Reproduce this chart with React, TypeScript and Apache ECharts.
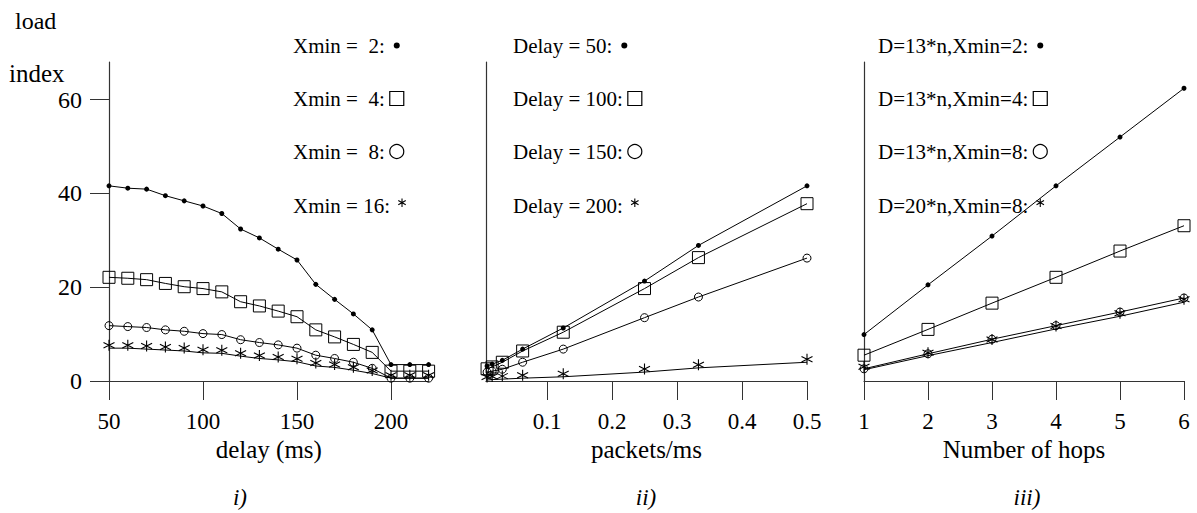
import React, { useEffect, useRef } from "react";
import * as echarts from "echarts";

// ---------- data ----------
const delayMs = [50, 60, 70, 80, 90, 100, 110, 120, 130, 140, 150, 160, 170, 180, 190, 200, 210, 220];
const loadXmin2 = [41.6, 41.1, 40.9, 39.5, 38.4, 37.3, 35.7, 32.4, 30.5, 28.1, 25.8, 20.6, 17.4, 14.3, 10.9, 3.5, 3.5, 3.5];
const loadXmin4 = [22.1, 21.9, 21.6, 20.8, 20.1, 19.7, 19.0, 16.9, 16.0, 14.9, 13.7, 10.9, 9.4, 7.8, 6.1, 2.1, 2.1, 2.1];
const loadXmin8 = [11.8, 11.6, 11.4, 10.9, 10.6, 10.1, 9.9, 8.8, 8.2, 7.7, 7.0, 5.5, 4.8, 4.0, 2.7, 0.6, 0.6, 0.6];
const loadXmin16 = [7.0, 7.0, 6.8, 6.6, 6.4, 6.0, 5.9, 5.3, 4.8, 4.5, 4.1, 3.2, 2.9, 2.3, 1.6, 0.6, 0.6, 0.6];

const packetRates = [0.0078, 0.0156, 0.03125, 0.0625, 0.125, 0.25, 0.333, 0.5];
const loadDelay50 = [3.2, 3.6, 4.4, 6.8, 11.3, 21.3, 28.9, 41.6];
const loadDelay100 = [2.6, 3.0, 4.0, 6.4, 10.4, 19.7, 26.3, 37.8];
const loadDelay150 = [1.9, 2.1, 2.5, 4.0, 6.8, 13.5, 17.9, 26.2];
const loadDelay200 = [0.2, 0.3, 0.4, 0.6, 0.9, 1.9, 2.8, 4.0];

const hops = [1, 2, 3, 4, 5, 6];
const loadD13X2 = [9.9, 20.5, 30.9, 41.6, 52.0, 62.4];
const loadD13X4 = [5.5, 11.0, 16.6, 22.1, 27.7, 33.1];
const loadD13X8 = [2.6, 5.8, 8.9, 11.8, 14.7, 17.7];
const loadD20X8 = [2.4, 5.4, 8.2, 11.1, 13.8, 16.8];

const yTicks = [0, 20, 40, 60];
const delayTicks = [50, 100, 150, 200];
const rateTicks = [0.1, 0.2, 0.3, 0.4, 0.5];

const namesI = ["Xmin =  2:", "Xmin =  4:", "Xmin =  8:", "Xmin = 16:"];
const namesII = ["Delay = 50:", "Delay = 100:", "Delay = 150:", "Delay = 200:"];
const namesIII = ["D=13*n,Xmin=2:", "D=13*n,Xmin=4:", "D=13*n,Xmin=8:", "D=20*n,Xmin=8:"];
const axisNames = ["delay (ms)", "packets/ms", "Number of hops"];
const panelLabels = ["i)", "ii)", "iii)"];
const yNameLines = ["load", "index"];

// ---------- styling ----------
const FONT = "'Liberation Serif', 'Times New Roman', Times, serif";
const STAR = "path://M0,-4L0,4M-3.46,-2L3.46,2M-3.46,2L3.46,-2";
const LEG_DOT = "path://M-7,-7M7,7M-3,0A3,3,0,1,0,3,0A3,3,0,1,0,-3,0Z";
const LEG_STAR = "path://M-7,-7M7,7M0,-8L0,1M-4,-5.75L4,-1.25M-4,-1.25L4,-5.75";

type Kind = "dot" | "square" | "circle" | "star";
const kinds: Kind[] = ["dot", "square", "circle", "star"];

function markerStyle(kind: Kind) {
  switch (kind) {
    case "dot":
      return { symbol: "circle", symbolSize: 5, itemStyle: { color: "#000", borderWidth: 0 } };
    case "square":
      return { symbol: "rect", symbolSize: 12, itemStyle: { color: "transparent", borderColor: "#000", borderWidth: 1 } };
    case "circle":
      return { symbol: "circle", symbolSize: 8, itemStyle: { color: "transparent", borderColor: "#000", borderWidth: 1 } };
    default:
      return { symbol: STAR, symbolSize: 11, symbolOffset: [0, -3], itemStyle: { color: "#000", borderColor: "#000", borderWidth: 1.1 } };
  }
}

function legendItem(name: string, kind: Kind) {
  switch (kind) {
    case "dot":
      return { name, icon: LEG_DOT, itemStyle: { color: "#000", borderWidth: 0 } };
    case "square":
      return { name, icon: "rect", itemStyle: { color: "transparent", borderColor: "#000", borderWidth: 1.2 } };
    case "circle":
      return { name, icon: "circle", itemStyle: { color: "transparent", borderColor: "#000", borderWidth: 1.2 } };
    default:
      return { name, icon: LEG_STAR, itemStyle: { color: "#000", borderColor: "#000", borderWidth: 1.1 } };
  }
}

function zip(xs: number[], ys: number[]) {
  return xs.map((x, i) => [x, ys[i]]);
}

function makeSeries(name: string, kind: Kind, idx: number, xs: number[], ys: number[]) {
  return {
    type: "line",
    name,
    xAxisIndex: idx,
    yAxisIndex: idx,
    data: zip(xs, ys),
    showAllSymbol: true,
    lineStyle: { color: "#000", width: 1 },
    emphasis: { disabled: true },
    ...markerStyle(kind),
  };
}

const axisLineStyle = { show: true, lineStyle: { color: "#333", width: 1.2 } };
const labelStyle = { color: "#000", fontFamily: FONT, fontSize: 24 };

function xAxis(idx: number, min: number, max: number, ticks: number[], name: string, fmt?: (v: number) => string) {
  return {
    type: "value",
    gridIndex: idx,
    min,
    max,
    name,
    nameLocation: "middle",
    nameGap: 56,
    nameMoveOverlap: false,
    nameTextStyle: { ...labelStyle, fontSize: 25 },
    axisLine: { ...axisLineStyle, onZero: false },
    axisTick: { show: true, length: 19, customValues: ticks, lineStyle: { color: "#333", width: 1 } },
    axisLabel: { ...labelStyle, fontSize: 23, margin: 29, customValues: ticks, formatter: fmt ? fmt : (v: number) => String(v) },
    splitLine: { show: false },
  };
}

function yAxis(idx: number, showTicks: boolean) {
  return {
    type: "value",
    gridIndex: idx,
    min: 0,
    max: 68,
    axisLine: { ...axisLineStyle, onZero: false },
    axisTick: { show: showTicks, length: 19, customValues: yTicks, lineStyle: { color: "#333", width: 1 } },
    axisLabel: { show: showTicks, ...labelStyle, margin: 27, customValues: yTicks },
    splitLine: { show: false },
  };
}

const legendRowTops = [35, 88, 141, 195];

function legends(left: number, names: string[]) {
  return names.map((n, i) => ({
    orient: "vertical",
    left,
    top: legendRowTops[i],
    padding: 0,
    align: "right",
    itemWidth: 14,
    itemHeight: 14,
    selectedMode: false,
    textStyle: { color: "#000", fontFamily: FONT, fontSize: 21 },
    data: [legendItem(n, kinds[i])],
  }));
}

export default function App() {
  const ref = useRef<HTMLDivElement>(null);

  useEffect(() => {
    if (!ref.current) return;
    const chart = echarts.init(ref.current, undefined, { renderer: "svg" });

    const seriesI = [loadXmin2, loadXmin4, loadXmin8, loadXmin16].map((ys, i) => makeSeries(namesI[i], kinds[i], 0, delayMs, ys));
    const seriesII = [loadDelay50, loadDelay100, loadDelay150, loadDelay200].map((ys, i) => makeSeries(namesII[i], kinds[i], 1, packetRates, ys));
    const seriesIII = [loadD13X2, loadD13X4, loadD13X8, loadD20X8].map((ys, i) => makeSeries(namesIII[i], kinds[i], 2, hops, ys));

    const panelCenters = [240, 646, 1027];

    chart.setOption({
      animation: false,
      backgroundColor: "#fff",
      textStyle: { fontFamily: FONT },
      grid: [
        { left: 109, top: 62, width: 319.6, height: 319 },
        { left: 485.9, top: 62, width: 321.1, height: 319 },
        { left: 864, top: 62, width: 320, height: 319 },
      ],
      xAxis: [
        xAxis(0, 50, 220, delayTicks, axisNames[0]),
        xAxis(1, 0.006, 0.5, rateTicks, axisNames[1], (v: number) => String(Math.round(v * 10) / 10)),
        xAxis(2, 1, 6, hops, axisNames[2]),
      ],
      yAxis: [yAxis(0, true), yAxis(1, false), yAxis(2, false)],
      legend: [...legends(293, namesI), ...legends(513, namesII), ...legends(878, namesIII)],
      series: [...seriesI, ...seriesII, ...seriesIII],
      graphic: [
        {
          type: "text",
          left: 15,
          top: 9,
          style: { text: yNameLines[0], fill: "#000", fontFamily: FONT, fontSize: 24 },
        },
        {
          type: "text",
          left: 9,
          top: 61,
          style: { text: yNameLines[1], fill: "#000", fontFamily: FONT, fontSize: 25 },
        },
        ...panelLabels.map((t, i) => ({
          type: "text",
          x: panelCenters[i],
          y: 497,
          style: {
            text: t,
            fill: "#000",
            fontFamily: FONT,
            fontSize: 23,
            fontStyle: "italic",
            align: "center",
            verticalAlign: "middle",
          },
        })),
      ],
    });

    return () => chart.dispose();
  }, []);

  return (
    <div
      ref={ref}
      style={{ position: "absolute", left: 0, top: 0, width: 1197, height: 513 }}
    />
  );
}
